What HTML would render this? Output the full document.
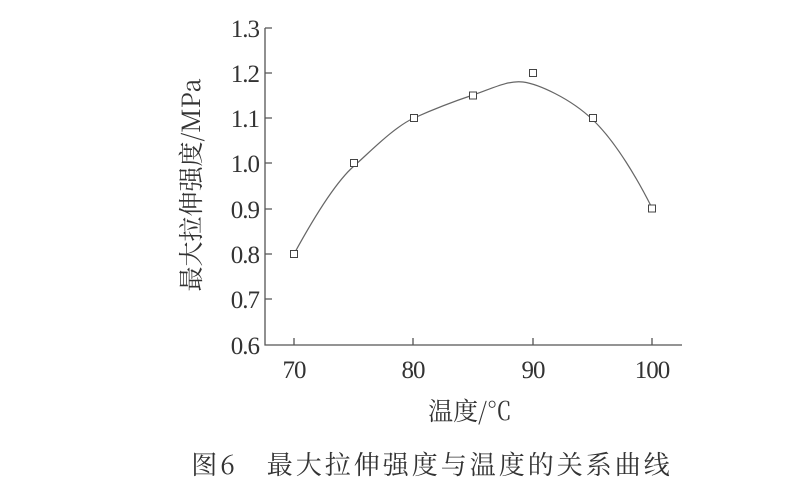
<!DOCTYPE html>
<html><head><meta charset="utf-8"><style>
body{margin:0;background:#fff;}
svg text{fill:#333;}
.n{font-family:"Liberation Serif","Times New Roman",serif;}
.c{font-family:"Noto Serif CJK SC","Liberation Serif",serif;}
</style></head><body>
<svg width="812" height="497" xmlns="http://www.w3.org/2000/svg">
<g stroke="#555" stroke-width="1.3" fill="none">
<path d="M265,28 V345 H682"/>
<path d="M265,28h7M265,73h7M265,118h7M265,163h7M265,209h7M265,254h7M265,299h7"/>
<path d="M294,345v-7M413,345v-7M533,345v-7M652,345v-7"/>
<path stroke="#666" stroke-width="1.2" d="M294,254 C318,210 338,180 354,166 S394,127 414,118 S455,101 473,95 S508,80 523,82 S570,98 593,120 S638,180 652,208"/>
<g stroke="#444" stroke-width="1" fill="#fff">
<rect x="290.5" y="250.5" width="7" height="7"/>
<rect x="350.5" y="159.5" width="7" height="7"/>
<rect x="410.5" y="114.5" width="7" height="7"/>
<rect x="469.5" y="92" width="7" height="7"/>
<rect x="529.5" y="69.5" width="7" height="7"/>
<rect x="589.5" y="114.5" width="7" height="7"/>
<rect x="648.5" y="205" width="7" height="7"/>
</g>
</g>
<g class="n" font-size="25" text-anchor="end" letter-spacing="-1">
<text x="259" y="37">1.3</text><text x="259" y="82">1.2</text><text x="259" y="127">1.1</text>
<text x="259" y="172">1.0</text><text x="259" y="218">0.9</text><text x="259" y="263">0.8</text>
<text x="259" y="308">0.7</text><text x="259" y="354">0.6</text>
</g>
<g class="n" font-size="25" text-anchor="middle" letter-spacing="-1">
<text x="294" y="378">70</text><text x="413" y="378">80</text><text x="533" y="378">90</text><text x="652" y="378">100</text>
</g>
<text class="c" x="470" y="420" font-size="25" text-anchor="middle">温度/℃</text>
<text class="c" font-size="25" text-anchor="middle" transform="translate(200,185) rotate(-90)">最大拉伸强度/MPa</text>
<text class="c" x="432" y="474" font-size="26" text-anchor="middle" letter-spacing="3">图6　最大拉伸强度与温度的关系曲线</text>
</svg>
</body></html>
